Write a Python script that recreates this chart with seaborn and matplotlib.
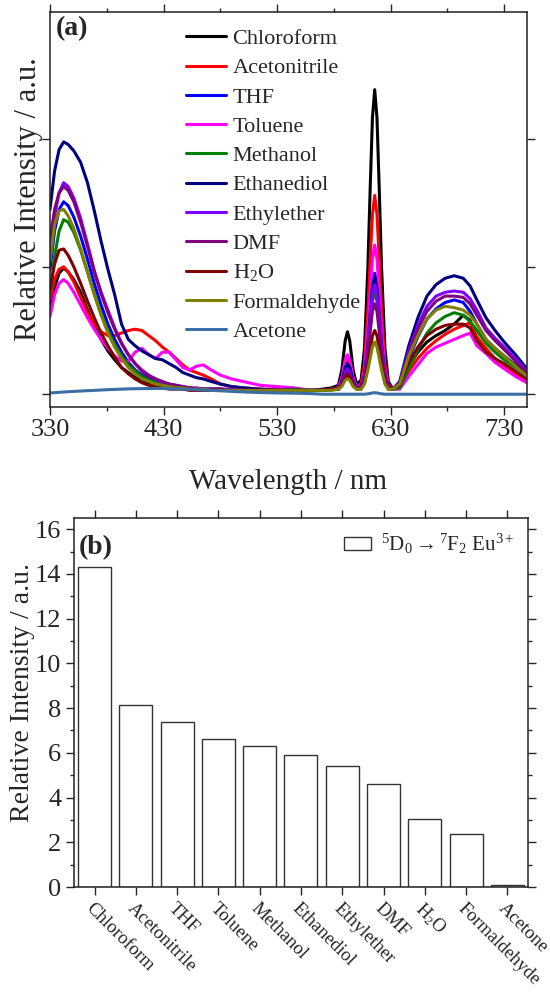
import pandas as pd
import seaborn as sns
import matplotlib
matplotlib.use("Agg")
import matplotlib.pyplot as plt
import matplotlib.transforms as mtransforms
from matplotlib.patches import Patch

# emission spectra (panel a)
wavelength = [330, 334, 338, 342, 346, 351, 357, 363, 369, 375, 381, 387, 393, 399, 405, 411, 417, 423,
              429, 435, 441, 447, 453, 459, 465, 472, 480, 490, 500, 515, 530, 545, 560,
              570, 578, 584, 587, 590, 592, 594, 597, 600, 604, 607, 610, 612, 614, 616, 618, 620, 622,
              625, 628, 632,
              638, 646, 654, 662, 670, 678, 686, 694, 700, 706, 714, 722, 730, 740, 750]

chloroform = [0.66, 0.84, 0.95, 0.99, 0.96, 0.90, 0.80, 0.66, 0.54, 0.43, 0.34, 0.27, 0.21, 0.17, 0.13, 0.11, 0.09, 0.08,
              0.07, 0.06, 0.05, 0.05, 0.04, 0.04, 0.04, 0.03, 0.03, 0.03, 0.03, 0.03, 0.03, 0.04, 0.03,
              0.04, 0.05, 0.07, 0.19, 0.42, 0.49, 0.42, 0.19, 0.08, 0.11, 0.36, 1.00, 1.61, 2.17, 2.39, 2.17, 1.61, 1.00,
              0.36, 0.10, 0.04,
              0.06, 0.22, 0.33, 0.41, 0.46, 0.50, 0.55, 0.62, 0.58, 0.42, 0.33, 0.26, 0.22, 0.17, 0.12]
acetonitrile = [0.74, 0.90, 0.98, 1.00, 0.96, 0.88, 0.76, 0.64, 0.55, 0.49, 0.46, 0.46, 0.48, 0.50, 0.51, 0.50, 0.46, 0.42,
                0.37, 0.33, 0.28, 0.23, 0.19, 0.17, 0.15, 0.12, 0.08, 0.06, 0.05, 0.04, 0.04, 0.04, 0.03,
                0.03, 0.04, 0.05, 0.12, 0.24, 0.28, 0.24, 0.12, 0.05, 0.08, 0.24, 0.66, 1.06, 1.41, 1.56, 1.41, 1.06, 0.66,
                0.24, 0.08, 0.04,
                0.05, 0.18, 0.28, 0.36, 0.42, 0.47, 0.51, 0.54, 0.56, 0.45, 0.36, 0.28, 0.22, 0.16, 0.10]
thf = [0.98, 1.28, 1.45, 1.51, 1.48, 1.39, 1.24, 1.06, 0.87, 0.70, 0.55, 0.43, 0.33, 0.25, 0.19, 0.15, 0.12, 0.10,
       0.08, 0.07, 0.06, 0.05, 0.05, 0.04, 0.04, 0.04, 0.04, 0.03, 0.03, 0.03, 0.03, 0.03, 0.03,
       0.03, 0.04, 0.04, 0.10, 0.20, 0.23, 0.20, 0.10, 0.05, 0.06, 0.15, 0.41, 0.65, 0.86, 0.95, 0.86, 0.65, 0.41,
       0.15, 0.06, 0.04,
       0.07, 0.28, 0.45, 0.59, 0.67, 0.72, 0.74, 0.72, 0.65, 0.55, 0.43, 0.36, 0.30, 0.23, 0.16]
toluene = [0.61, 0.78, 0.87, 0.90, 0.87, 0.80, 0.70, 0.60, 0.51, 0.43, 0.36, 0.30, 0.26, 0.26, 0.33, 0.36, 0.31, 0.28,
           0.33, 0.33, 0.27, 0.21, 0.19, 0.22, 0.23, 0.19, 0.15, 0.12, 0.10, 0.07, 0.06, 0.05, 0.03,
           0.03, 0.04, 0.05, 0.13, 0.27, 0.31, 0.27, 0.13, 0.06, 0.06, 0.18, 0.50, 0.79, 1.06, 1.17, 1.06, 0.79, 0.50,
           0.18, 0.06, 0.04,
           0.04, 0.14, 0.23, 0.32, 0.37, 0.40, 0.43, 0.46, 0.48, 0.38, 0.32, 0.25, 0.20, 0.14, 0.09]
methanol = [0.79, 1.08, 1.28, 1.37, 1.35, 1.27, 1.13, 0.96, 0.79, 0.63, 0.50, 0.39, 0.30, 0.23, 0.18, 0.14, 0.11, 0.09,
            0.08, 0.07, 0.06, 0.05, 0.05, 0.04, 0.04, 0.04, 0.04, 0.03, 0.03, 0.03, 0.03, 0.04, 0.03,
            0.03, 0.04, 0.04, 0.08, 0.16, 0.18, 0.16, 0.08, 0.05, 0.05, 0.13, 0.35, 0.55, 0.73, 0.80, 0.73, 0.55, 0.35,
            0.13, 0.05, 0.04,
            0.05, 0.20, 0.35, 0.48, 0.56, 0.61, 0.64, 0.62, 0.57, 0.50, 0.40, 0.33, 0.27, 0.21, 0.15]
ethanediol = [1.45, 1.75, 1.92, 1.98, 1.96, 1.91, 1.82, 1.66, 1.44, 1.20, 0.98, 0.78, 0.55, 0.43, 0.38, 0.34, 0.31, 0.28,
              0.27, 0.24, 0.21, 0.17, 0.15, 0.13, 0.12, 0.10, 0.08, 0.06, 0.05, 0.04, 0.03, 0.03, 0.03,
              0.03, 0.04, 0.04, 0.10, 0.21, 0.24, 0.21, 0.10, 0.05, 0.06, 0.15, 0.39, 0.63, 0.84, 0.92, 0.84, 0.63, 0.39,
              0.15, 0.06, 0.04,
              0.10, 0.38, 0.60, 0.77, 0.86, 0.91, 0.93, 0.91, 0.85, 0.74, 0.60, 0.50, 0.41, 0.31, 0.20]
ethylether = [1.10, 1.40, 1.58, 1.66, 1.63, 1.54, 1.38, 1.18, 0.97, 0.80, 0.66, 0.52, 0.40, 0.31, 0.24, 0.19, 0.15, 0.12,
              0.09, 0.08, 0.07, 0.06, 0.05, 0.05, 0.04, 0.04, 0.04, 0.04, 0.03, 0.03, 0.03, 0.03, 0.03,
              0.03, 0.04, 0.04, 0.09, 0.17, 0.20, 0.17, 0.09, 0.05, 0.05, 0.14, 0.37, 0.59, 0.78, 0.86, 0.78, 0.59, 0.37,
              0.14, 0.05, 0.04,
              0.09, 0.34, 0.54, 0.69, 0.77, 0.80, 0.81, 0.80, 0.75, 0.66, 0.52, 0.44, 0.37, 0.28, 0.18]
dmf = [1.20, 1.45, 1.58, 1.63, 1.60, 1.51, 1.35, 1.16, 0.96, 0.79, 0.64, 0.51, 0.40, 0.31, 0.24, 0.18, 0.14, 0.12,
       0.10, 0.08, 0.07, 0.06, 0.05, 0.04, 0.04, 0.04, 0.04, 0.03, 0.03, 0.03, 0.03, 0.03, 0.03,
       0.03, 0.04, 0.04, 0.08, 0.15, 0.17, 0.15, 0.08, 0.05, 0.05, 0.12, 0.31, 0.49, 0.65, 0.71, 0.65, 0.49, 0.31,
       0.12, 0.05, 0.04,
       0.08, 0.32, 0.51, 0.65, 0.73, 0.77, 0.77, 0.76, 0.71, 0.62, 0.50, 0.42, 0.35, 0.26, 0.17]
water = [0.82, 1.02, 1.13, 1.14, 1.09, 1.00, 0.87, 0.73, 0.60, 0.48, 0.38, 0.29, 0.21, 0.16, 0.12, 0.09, 0.07, 0.06,
         0.05, 0.04, 0.04, 0.04, 0.03, 0.03, 0.03, 0.03, 0.03, 0.03, 0.03, 0.03, 0.03, 0.03, 0.03,
         0.03, 0.04, 0.04, 0.07, 0.13, 0.15, 0.13, 0.07, 0.04, 0.04, 0.09, 0.22, 0.34, 0.46, 0.50, 0.46, 0.34, 0.22,
         0.09, 0.04, 0.04,
         0.07, 0.25, 0.37, 0.46, 0.51, 0.54, 0.55, 0.55, 0.52, 0.42, 0.33, 0.28, 0.24, 0.18, 0.12]
formaldehyde = [1.05, 1.33, 1.44, 1.45, 1.40, 1.30, 1.14, 0.96, 0.78, 0.62, 0.48, 0.37, 0.28, 0.21, 0.16, 0.12, 0.10, 0.08,
                0.07, 0.06, 0.05, 0.05, 0.04, 0.04, 0.04, 0.03, 0.03, 0.03, 0.03, 0.03, 0.03, 0.03, 0.03,
                0.03, 0.03, 0.04, 0.06, 0.11, 0.12, 0.11, 0.06, 0.04, 0.04, 0.08, 0.19, 0.28, 0.37, 0.41, 0.37, 0.28, 0.19,
                0.08, 0.04, 0.04,
                0.08, 0.30, 0.46, 0.59, 0.66, 0.69, 0.68, 0.66, 0.62, 0.55, 0.43, 0.36, 0.30, 0.22, 0.14]
acetone = [0.010, 0.012, 0.015, 0.017, 0.020, 0.022, 0.025, 0.028, 0.030, 0.033, 0.036, 0.038, 0.040, 0.042, 0.043,
           0.044, 0.045, 0.045, 0.045, 0.044, 0.043, 0.040, 0.038, 0.035, 0.033, 0.030, 0.027, 0.022, 0.018, 0.013,
           0.010, 0.008, 0.005,
           0.0, 0.0, 0.0, 0.0, 0.0, 0.0, 0.0, 0.0, 0.0, 0.0, 0.0, 0.003, 0.006, 0.010, 0.012, 0.010, 0.006, 0.003,
           0.0, 0.0, 0.0,
           0.0, 0.0, 0.0, 0.0, 0.0, 0.0, 0.0, 0.0, 0.0, 0.0, 0.0, 0.0, 0.0, 0.0, 0.0]

solvents = ["Chloroform", "Acetonitrile", "THF", "Toluene", "Methanol", "Ethanediol",
            "Ethylether", "DMF", "H$_2$O", "Formaldehyde", "Acetone"]
spectra = [chloroform, acetonitrile, thf, toluene, methanol, ethanediol,
           ethylether, dmf, water, formaldehyde, acetone]
colors = ["#000000", "#FF0000", "#0000FF", "#FF00FF", "#008000", "#000080",
          "#8000FF", "#800080", "#800000", "#808000", "#3A6EA5"]

# 5D0 -> 7F2 intensities (panel b)
bar_values = [14.3, 8.15, 7.4, 6.6, 6.3, 5.9, 5.4, 4.6, 3.05, 2.35, 0.08]

rows = []
for name, vals in zip(solvents, spectra):
    for w, v in zip(wavelength, vals):
        rows.append((name, w, v))
df = pd.DataFrame(rows, columns=["solvent", "wl", "I"])

sns.set_style("ticks")
plt.rcParams['font.family'] = ['Liberation Serif', 'DejaVu Serif']
plt.rcParams['mathtext.fontset'] = 'custom'
plt.rcParams['mathtext.rm'] = 'Liberation Serif'
plt.rcParams['mathtext.it'] = 'Liberation Serif:italic'
plt.rcParams['mathtext.bf'] = 'Liberation Serif:bold'
plt.rcParams['axes.linewidth'] = 1.1
plt.rcParams['axes.edgecolor'] = '#222222'

fig = plt.figure(figsize=(5.5, 9.96), dpi=100)
ax1 = fig.add_axes([0.0909, 0.5914, 0.867, 0.3966])
ax2 = fig.add_axes([0.1345, 0.1094, 0.8255, 0.3705])

# ---- panel a
sns.lineplot(data=df, x="wl", y="I", hue="solvent", hue_order=solvents,
             palette=colors, linewidth=2.2, estimator=None, ax=ax1)
ax1.set_xlim(330, 750)
ax1.set_ylim(-0.1, 3.0)
ax1.set_xticks(range(330, 731, 100))
ax1.set_xticks([380, 480, 580, 680], minor=True)
ax1.set_yticks([0, 1, 2])
ax1.set_yticklabels([])
ax1.tick_params(which='both', direction='out', top=True, right=True, width=1, labelsize=19)
ax1.tick_params(which='major', length=5.5)
ax1.tick_params(which='minor', length=3)
ax1.set_xlabel("Wavelength / nm", fontsize=21, labelpad=20)
ax1.set_ylabel("Relative Intensity / a.u.", fontsize=22)
ax1.yaxis.set_label_coords(-0.015, 0.527)
handles, labels = ax1.get_legend_handles_labels()
ax1.legend(handles, labels, loc='upper left', bbox_to_anchor=(0.25, 1.0), frameon=False,
           fontsize=16, handlelength=1.8, handletextpad=0.3, labelspacing=0.39, borderaxespad=0.35)
ax1.text(0.012, 0.99, "(a)", transform=ax1.transAxes, fontsize=20, fontweight='bold',
         ha='left', va='top')

# ---- panel b
sns.barplot(x=solvents, y=bar_values, color='white', edgecolor='#333333', linewidth=1.0,
            width=0.8, saturation=1, ax=ax2)
ax2.set_xlim(-0.5, 10.5)
ax2.set_ylim(0, 16.5)
ax2.set_yticks(range(0, 17, 2))
ax2.set_yticks(range(1, 17, 2), minor=True)
ax2.set_xticks(range(len(solvents)))
ax2.set_xticklabels(solvents, rotation=-45, ha='left', va='top', rotation_mode='anchor', fontsize=13.5)
shift = mtransforms.ScaledTranslation(-4 / 72, 0, fig.dpi_scale_trans)
for lab in ax2.get_xticklabels():
    lab.set_transform(lab.get_transform() + shift)
ax2.tick_params(which='both', direction='out', top=True, right=True, width=1)
ax2.tick_params(axis='y', labelsize=19)
ax2.tick_params(which='major', length=5.5)
ax2.tick_params(which='minor', length=3)
ax2.set_ylabel("Relative Intensity / a.u.", fontsize=20)
ax2.yaxis.set_label_coords(-0.086, 0.526)
ax2.set_xlabel("")
patch = Patch(facecolor='white', edgecolor='#333333', linewidth=1)
ax2.legend([patch], [r"$^{5}$D$_{0}$$\rightarrow$$^{7}$F$_{2}$ Eu$^{3+}$"], loc='upper right',
           frameon=False, fontsize=15, handlelength=1.3, handleheight=0.6,
           handletextpad=0.5, borderaxespad=0.25)
ax2.text(0.01, 0.955, "(b)", transform=ax2.transAxes, fontsize=20, fontweight='bold',
         ha='left', va='top')

fig.savefig("out.png", dpi=100)
